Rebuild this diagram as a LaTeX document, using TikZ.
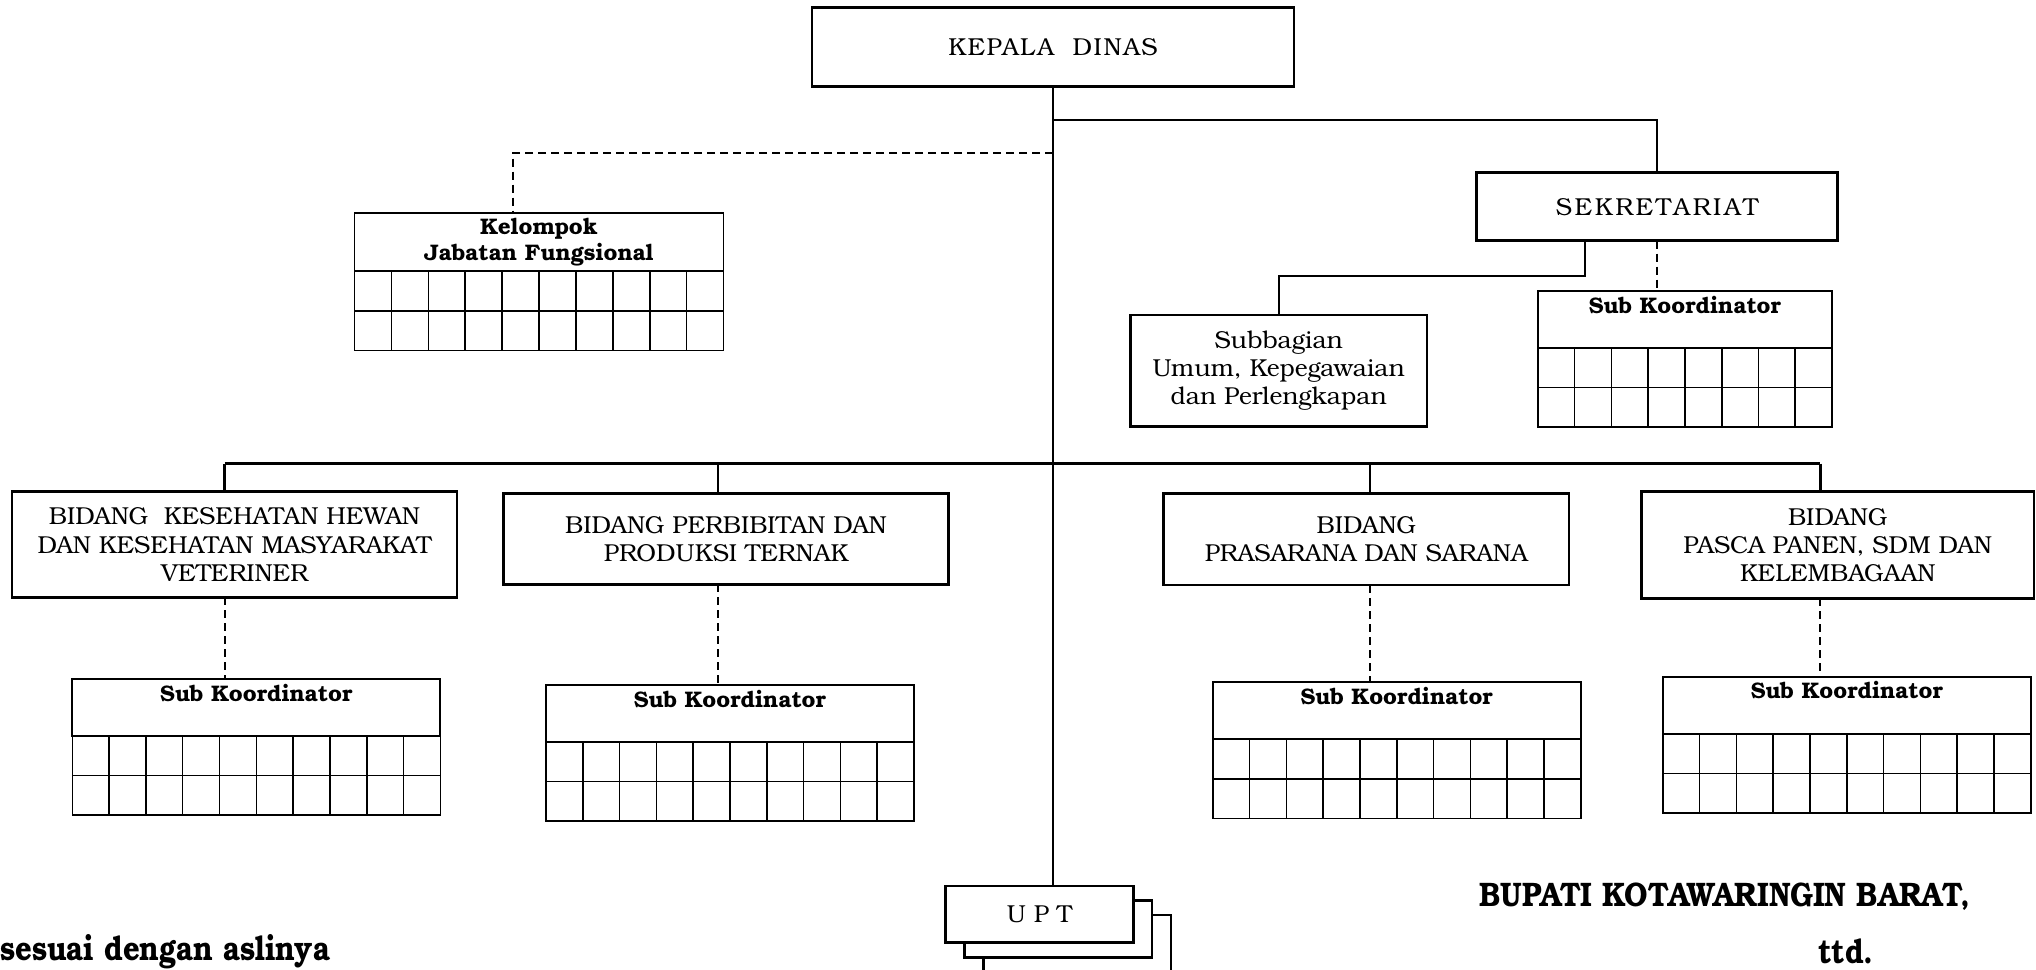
\documentclass[tikz,border=0pt]{standalone}
\usepackage{graphicx}
\usepackage{fontspec}
\setmainfont{texgyrebonum}[Extension=.otf, UprightFont=*-regular, BoldFont=*-bold]
\usetikzlibrary{calc}

\begin{document}
\begin{tikzpicture}[x=1pt, y=-1pt,
	unit/.style={draw, line width=2.6pt, fill=white, align=center, inner sep=0pt, outer sep=0pt, font=\fontsize{24.5}{28.3}\selectfont},
	headbox/.style={draw, line width=1.8pt, fill=white, inner sep=0pt, outer sep=0pt, font=\bfseries\fontsize{22.5}{26.6}\selectfont},
	subhead/.style={headbox, minimum width=368pt, inner ysep=6pt, text height=16pt, text depth=29pt},
	link/.style={line width=2.2pt},
	dashlink/.style={line width=2pt, dash pattern=on 8pt off 5pt},
	cell/.style={line width=1.6pt},
	sign/.style={font=\bfseries\fontsize{34}{38}\selectfont, anchor=base, inner sep=0pt}]
		\useasboundingbox (0,0) rectangle (2036,969);
		\node[unit, minimum width=482pt, minimum height=79pt] (kepala) at (1053,46.7) {\addfontfeature{LetterSpace=6}KEPALA\ \ DINAS};
		\node[unit, minimum width=361pt, minimum height=68pt] (sekr) at (1657,206.7) {\addfontfeature{LetterSpace=11}SEKRETARIAT};
		\node[unit, minimum width=296.5pt, minimum height=111.7pt] (subbag) at (1278.7,370.8) {Subbagian\\Umum, Kepegawaian\\dan Perlengkapan};
		\node[headbox, align=center, minimum width=369pt, minimum height=58.6pt] (kel) at (539,242) {Kelompok\\Jabatan Fungsional};
		\node[subhead, minimum width=294.3pt] (sksek) at (1684.9,319.5) {Sub Koordinator};
		\node[unit, minimum width=445pt, minimum height=105.6pt] (b1) at (234.5,544.5) {BIDANG\ \ KESEHATAN HEWAN\\DAN KESEHATAN MASYARAKAT\\VETERINER};
		\node[unit, minimum width=444.7pt, minimum height=91pt] (b2) at (726,538.8) {BIDANG PERBIBITAN DAN\\PRODUKSI TERNAK};
		\node[unit, minimum width=405.5pt, minimum height=91.7pt] (b3) at (1366.3,539.2) {BIDANG\\PRASARANA DAN SARANA};
		\node[unit, minimum width=392.6pt, minimum height=106.6pt] (b4) at (1837.7,545) {BIDANG\\PASCA PANEN, SDM DAN\\KELEMBAGAAN};
		\node[subhead] (sk1) at (256.3,707.5) {Sub Koordinator};
		\node[subhead] (sk2) at (729.9,713.5) {Sub Koordinator};
		\node[subhead] (sk3) at (1396.7,710.8) {Sub Koordinator};
		\node[subhead] (sk4) at (1846.8,705.4) {Sub Koordinator};
		\node[unit, minimum width=187.6pt, minimum height=56.7pt] (upt3) at (1077,943.3) {};
		\node[unit, minimum width=187.6pt, minimum height=56.7pt] (upt2) at (1058.2,929) {};
		\node[unit, minimum width=187.6pt, minimum height=56.7pt] (upt) at (1039.5,914.3) {U P T};
		\coordinate (t1) at (224.5,463.5);
		\coordinate (t2) at (717.7,463.5);
		\coordinate (t3) at (1370,463.5);
		\coordinate (t4) at (1820.4,463.5);
		\draw[link] (kepala.south) -- (kepala.south |- upt.north);
		\draw[link] (kepala.south |- 0,120) -| (sekr.north);
		\draw[dashlink] (kepala.south |- 0,152.7) -| (kel.north -| 513,0);
		\draw[link] (sekr.south -| 1585,0) -- ++(0,35.3) -| (subbag.north);
		\draw[dashlink] (sekr.south) -- (sekr.south |- sksek.north);
		\draw[link] (t1) -- (t4);
		\foreach \t/\b/\s in {t1/b1/sk1, t2/b2/sk2, t3/b3/sk3, t4/b4/sk4} {
			\draw[link] (\t) -- (\t |- \b.north);
			\draw[dashlink] (\t |- \b.south) -- (\t |- \s.north);
		}
		\foreach \s/\n in {kel/10, sksek/8, sk1/10, sk2/10, sk3/10, sk4/10} {
			\draw[cell] (\s.south west) rectangle ($(\s.south east)+(0,79)$);
			\draw[cell] ($(\s.south west)+(0,39.5)$) -- ($(\s.south east)+(0,39.5)$);
			\pgfmathtruncatemacro\m{\n-1}
			\foreach \i in {1,...,\m}
				\draw[cell] ($(\s.south west)!\i/\n!(\s.south east)$) -- ++(0,79);
		}
		\node[sign] (bupati) at (1725,906) {\scalebox{0.86}[1]{BUPATI KOTAWARINGIN BARAT,}};
		\node[sign] (ttd) at (1846,963) {\scalebox{0.86}[1]{ttd.}};
		\node[sign, anchor=base west] (salinan) at (0,960) {\scalebox{0.86}[1]{sesuai dengan aslinya}};
	\end{tikzpicture}
\end{document}
